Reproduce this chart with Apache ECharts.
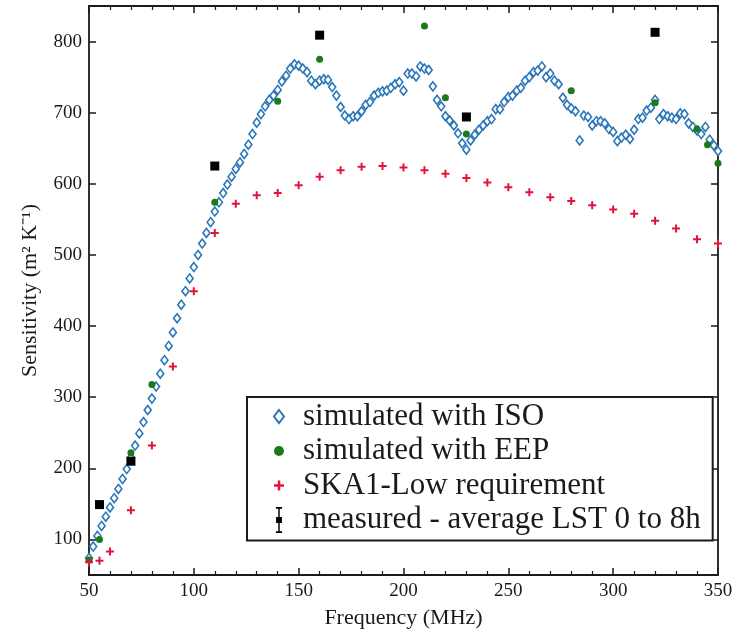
<!DOCTYPE html>
<html>
<head>
<meta charset="utf-8">
<script src="https://cdn.jsdelivr.net/npm/echarts@6/dist/echarts.min.js"></script>
<style>html,body{margin:0;padding:0;background:#fff;}#c{width:742px;height:633px;}</style>
</head>
<body>
<div id="c"></div>
<script>
// ---- data ----
const isoFreq = [50,52,54,56,58,60,62,64,66,68,70,72,74,76,78,80,82,84,86,88,90,92,94,96,98,100,102,104,106,108,110,112,114,116,118,120,122,124,126,128,130,132,134,136,138,140,142,144,146,148,150,152,154,156,158,160,162,164,166,168,170,172,174,176,178,180,182,184,186,188,190,192,194,196,198,200,202,204,206,208,210,212,214,216,218,220,222,224,226,228,230,232,234,236,238,240,242,244,246,248,250,252,254,256,258,260,262,264,266,268,270,272,274,276,278,280,282,284,286,288,290,292,294,296,298,300,302,304,306,308,310,312,314,316,318,320,322,324,326,328,330,332,334,336,338,340,342,344,346,348,350];
const isoValues = [74,90,105,119,132,145,158,171,185,199,215,232,249,265,282,298,315,333,352,372,391,411,430,449,467,483,500,516,531,546,561,574,587,599,610,621,630,642,655,670,686,698,709,718,724,732,744,752,762,768,766,762,757,745,740,745,747,746,736,724,708,696,691,695,695,702,711,715,724,728,730,731,735,740,743,731,755,755,751,765,762,760,737,718,709,695,689,682,671,657,648,661,669,676,682,688,691,705,705,715,722,724,731,735,745,750,757,759,765,750,755,745,740,721,711,706,702,661,696,694,682,688,688,685,677,673,660,665,669,663,676,691,693,703,707,718,691,698,695,693,691,699,698,685,680,675,670,680,662,654,646];
const eepFreq = [50,55,70,80,110,140,160,210,220,230,280,320,340,345,350];
const eepValues = [71,100,222,318,574,716,775,822,721,670,731,714,677,655,629];
const skaFreq = [50,55,60,70,80,90,100,110,120,130,140,150,160,170,180,190,200,210,220,230,240,250,260,270,280,290,300,310,320,330,340,350];
const skaValues = [68,70,83,141,232,343,449,531,572,584,587,598,610,619,624,625,623,619,614,608,602,595,588,581,576,570,564,558,548,537,522,516];
const measFreq = [55,70,110,160,230,320];
const measValues = [149,210,625,809,694,813];
const xTicks = [50,100,150,200,250,300,350];
const yTicks = [100,200,300,400,500,600,700,800];
const seriesNames = ['simulated with ISO','simulated with EEP','SKA1-Low requirement','measured - average LST 0 to 8h'];

const pairs = (xs, ys) => xs.map((x, i) => [x, ys[i]]);
const FONT = 'Liberation Serif';
const INK = '#1a1a1a';
const BLUE = '#2a76b8', GREEN = '#1b7a1b', RED = '#e3123d';
const plusPath = 'path://M3,0H5V3H8V5H5V8H3V5H0V3H3Z';
const errPath = 'path://M1,0H7V1.6H1Z M3.3,0H4.7V25H3.3Z M1,23.4H7V25H1Z M1.2,9.5H6.8V15.5H1.2Z';
const diamondPath = 'path://M5,0L10,6.5L5,13L0,6.5Z';

const axisCommon = {
  axisLine: {show: true, onZero: false, lineStyle: {color: INK, width: 1.8}},
  axisTick: {show: true, inside: true, length: 7, lineStyle: {color: INK, width: 1.5}},
  splitLine: {show: false},
  axisLabel: {color: INK, fontFamily: FONT, fontSize: 19}
};

const chart = echarts.init(document.getElementById('c'), null, {renderer: 'canvas'});
chart.setOption({
  animation: false,
  backgroundColor: '#fff',
  grid: {left: 89, right: 24, top: 6, bottom: 58, containLabel: false, outerBoundsMode: 'none'},
  xAxis: [
    Object.assign({}, axisCommon, {
      type: 'value', min: xTicks[0], max: xTicks[xTicks.length - 1], interval: 50, position: 'bottom',
      name: 'Frequency (MHz)', nameLocation: 'middle', nameGap: 32,
      nameTextStyle: {color: INK, fontFamily: FONT, fontSize: 22},
      minorTick: {show: true, splitNumber: 5, length: 4, lineStyle: {color: INK, width: 1.2}},
      axisLabel: Object.assign({}, axisCommon.axisLabel, {margin: 7})
    }),
    Object.assign({}, axisCommon, {
      type: 'value', min: xTicks[0], max: xTicks[xTicks.length - 1], interval: 50, position: 'top',
      minorTick: {show: true, splitNumber: 5, length: 4, lineStyle: {color: INK, width: 1.2}},
      axisLabel: {show: false}
    })
  ],
  yAxis: [
    Object.assign({}, axisCommon, {
      type: 'value', min: 50, max: 850, position: 'left',
      name: 'Sensitivity (m\u00B2 K\u207B\u00B9)', nameLocation: 'middle', nameGap: 48,
      nameTextStyle: {color: INK, fontFamily: FONT, fontSize: 22},
      axisTick: Object.assign({}, axisCommon.axisTick, {customValues: yTicks}),
      axisLabel: Object.assign({}, axisCommon.axisLabel, {margin: 7, customValues: yTicks})
    }),
    Object.assign({}, axisCommon, {
      type: 'value', min: 50, max: 850, position: 'right',
      axisTick: Object.assign({}, axisCommon.axisTick, {customValues: yTicks}),
      axisLabel: {show: false}
    })
  ],
  legend: {
    orient: 'vertical', left: 247, top: 397,
    padding: [4, 12, 5, 26], itemGap: 3.5, itemWidth: 10, itemHeight: 26,
    borderColor: INK, borderWidth: 2, borderRadius: 0, backgroundColor: '#fff',
    selectedMode: false,
    textStyle: {fontFamily: FONT, fontSize: 31, color: INK, lineHeight: 31, padding: [0, 0, 0, 14]},
    data: [
      {name: seriesNames[0], icon: diamondPath, itemStyle: {color: '#fff', borderColor: BLUE, borderWidth: 2, opacity: 1}},
      {name: seriesNames[1], icon: 'circle', itemStyle: {color: GREEN, opacity: 1}},
      {name: seriesNames[2], icon: plusPath, itemStyle: {color: RED, opacity: 1}},
      {name: seriesNames[3], icon: errPath, itemStyle: {color: '#000', opacity: 1}}
    ]
  },
  series: [
    {name: seriesNames[0], type: 'scatter', data: pairs(isoFreq, isoValues), symbol: 'diamond', symbolSize: [7, 9],
     itemStyle: {color: '#fff', borderColor: BLUE, borderWidth: 1.6, opacity: 1}, emphasis: {disabled: true}, z: 2},
    {name: seriesNames[1], type: 'scatter', data: pairs(eepFreq, eepValues), symbol: 'circle', symbolSize: 7,
     itemStyle: {color: GREEN, opacity: 1}, emphasis: {disabled: true}, z: 3},
    {name: seriesNames[2], type: 'scatter', data: pairs(skaFreq, skaValues), symbol: plusPath, symbolSize: 8,
     itemStyle: {color: RED, opacity: 1}, emphasis: {disabled: true}, z: 4},
    {name: seriesNames[3], type: 'scatter', data: pairs(measFreq, measValues), symbol: 'rect', symbolSize: 9,
     itemStyle: {color: '#000', opacity: 1}, emphasis: {disabled: true}, z: 5}
  ]
});
</script>
</body>
</html>
